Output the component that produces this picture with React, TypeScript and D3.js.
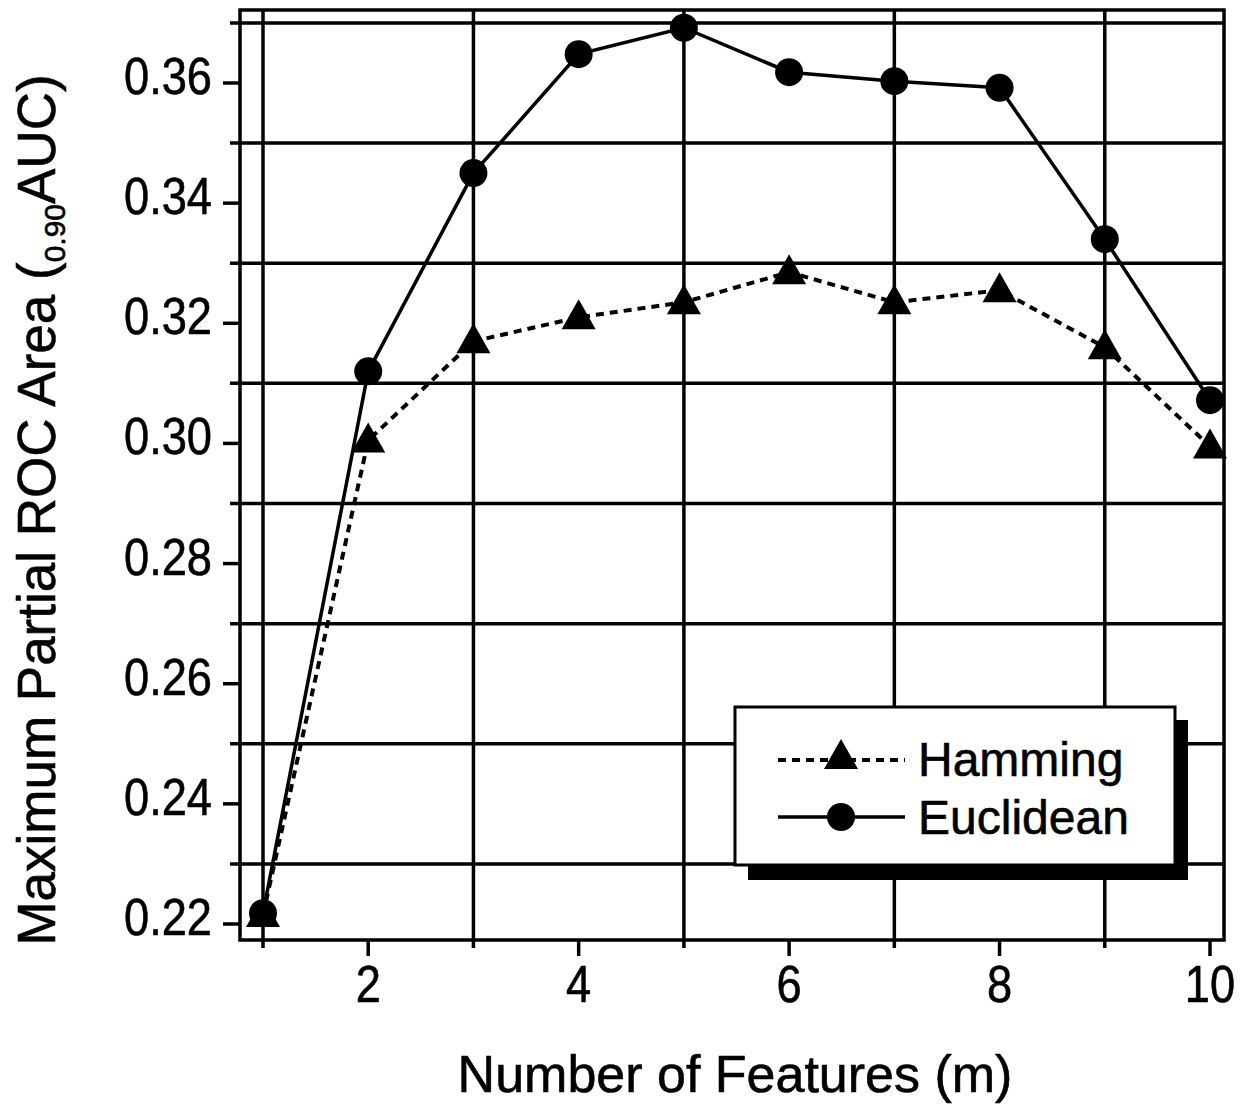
import React from "react";
import * as d3 from "d3";

const features = [1, 2, 3, 4, 5, 6, 7, 8, 9, 10];
const hamming = [0.2215, 0.3005, 0.317, 0.321, 0.3235, 0.3285, 0.3235, 0.3255, 0.316, 0.2995];
const euclidean = [0.2218, 0.312, 0.345, 0.3648, 0.3692, 0.3618, 0.3603, 0.3592, 0.334, 0.3072];
const yTicks = [0.22, 0.24, 0.26, 0.28, 0.3, 0.32, 0.34, 0.36];
const yGrid = [0.23, 0.25, 0.27, 0.29, 0.31, 0.33, 0.35, 0.37];
const xTicks = [2, 4, 6, 8, 10];
const xGrid = [1, 3, 5, 7, 9];
const seriesNames = ["Hamming", "Euclidean"];

const FONT = "'Liberation Sans', Arial, sans-serif";

export default function App() {
  const left = 240, right = 1224, top = 10, bottom = 940;
  const x = d3.scaleLinear().domain([1, 10]).range([263, 1210]);
  const y = d3.scaleLinear().domain([0.22, 0.36]).range([924, 83]);
  const line = d3
    .line<number>()
    .x((_, i) => x(features[i]))
    .y((d) => y(d));

  const tri = (cx: number, cy: number) =>
    `M${cx},${cy - 18} L${cx + 17},${cy + 12} L${cx - 17},${cy + 12} Z`;

  const tickScale = "scale(0.87,1)";

  return (
    <svg
      width={1240}
      height={1105}
      style={{ position: "absolute", left: 0, top: 0, background: "#fff" }}
    >
      <rect x={0} y={0} width={1240} height={1105} fill="#fff" />
      {yGrid.map((v) => (
        <line key={"hg" + v} x1={230} x2={right} y1={y(v)} y2={y(v)} stroke="#000" strokeWidth={3.5} />
      ))}
      {xGrid.map((v) => (
        <line key={"vg" + v} x1={x(v)} x2={x(v)} y1={top} y2={948} stroke="#000" strokeWidth={3.5} />
      ))}
      <rect x={left} y={top} width={right - left} height={bottom - top} fill="none" stroke="#000" strokeWidth={3.5} />
      {yTicks.map((v) => (
        <g key={"yt" + v}>
          <line x1={223} x2={left} y1={y(v)} y2={y(v)} stroke="#000" strokeWidth={3.5} />
          <g transform={`translate(212,${y(v) + 11}) ${tickScale}`}>
            <text x={0} y={0} textAnchor="end" fontFamily={FONT} fontSize={52} fill="#000" stroke="#000" strokeWidth={0.6}>
              {v.toFixed(2)}
            </text>
          </g>
        </g>
      ))}
      {xTicks.map((v) => (
        <g key={"xt" + v}>
          <line x1={x(v)} x2={x(v)} y1={bottom} y2={956} stroke="#000" strokeWidth={3.5} />
          <g transform={`translate(${x(v)},1002) ${tickScale}`}>
            <text x={0} y={0} textAnchor="middle" fontFamily={FONT} fontSize={52} fill="#000" stroke="#000" strokeWidth={0.6}>
              {v}
            </text>
          </g>
        </g>
      ))}
      <path d={line(euclidean) || ""} fill="none" stroke="#000" strokeWidth={3.5} />
      <path d={line(hamming) || ""} fill="none" stroke="#000" strokeWidth={4} strokeDasharray="8,6" />
      {euclidean.map((v, i) => (
        <circle key={"ec" + i} cx={x(features[i])} cy={y(v)} r={14} fill="#000" />
      ))}
      {hamming.map((v, i) => (
        <path key={"ht" + i} d={tri(x(features[i]), y(v))} fill="#000" />
      ))}
      <rect x={748} y={720} width={440} height={160} fill="#000" />
      <rect x={735} y={707} width={440} height={158} fill="#fff" stroke="#000" strokeWidth={3} />
      <line x1={778} x2={905} y1={760} y2={760} stroke="#000" strokeWidth={4} strokeDasharray="8,6" />
      <path d={tri(841, 757)} fill="#000" />
      <text x={918} y={776} fontFamily={FONT} fontSize={48} fill="#000" stroke="#000" strokeWidth={0.6}>{seriesNames[0]}</text>
      <line x1={778} x2={905} y1={817} y2={817} stroke="#000" strokeWidth={3.5} />
      <circle cx={841} cy={817} r={14} fill="#000" />
      <text x={918} y={834} fontFamily={FONT} fontSize={48} fill="#000" stroke="#000" strokeWidth={0.6}>{seriesNames[1]}</text>
      <text x={735} y={1092} textAnchor="middle" fontFamily={FONT} fontSize={52} fill="#000" stroke="#000" strokeWidth={0.6}>
        Number of Features (m)
      </text>
      <text
        transform="translate(55,510) rotate(-90)"
        textAnchor="middle"
        fontFamily={FONT}
        fontSize={53}
        fill="#000"
        stroke="#000"
        strokeWidth={0.6}
      >
        Maximum Partial ROC Area (
        <tspan fontSize={30} dy={10}>0.90</tspan>
        <tspan dy={-10}>AUC)</tspan>
      </text>
    </svg>
  );
}
